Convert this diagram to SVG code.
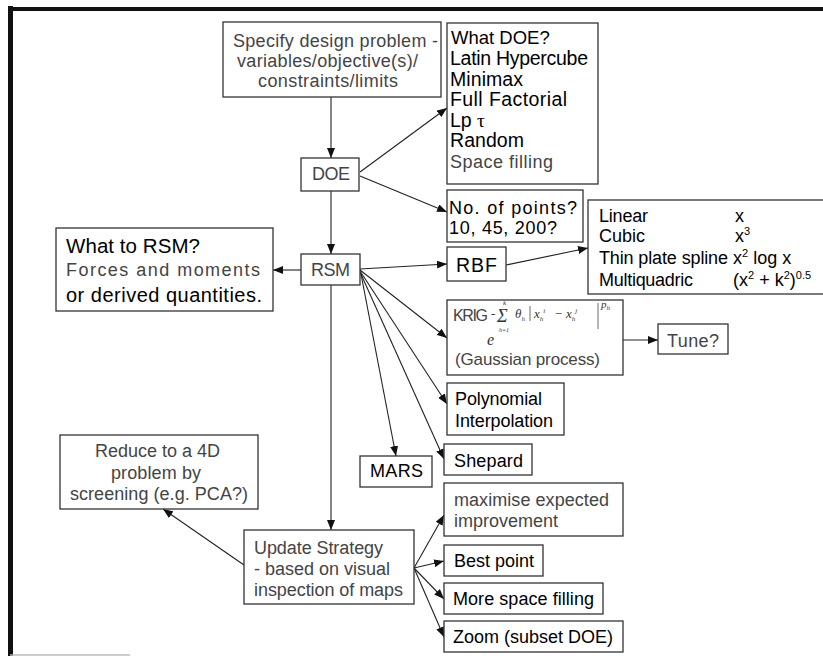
<svg xmlns="http://www.w3.org/2000/svg" width="823" height="656" viewBox="0 0 823 656">
<defs>
<marker id="ah" markerUnits="userSpaceOnUse" markerWidth="10" markerHeight="8" refX="10" refY="4" orient="auto">
<path d="M0,0 L10,4 L0,8 z" fill="#111"/>
</marker>
<style>
.box{fill:#fff;stroke:#333;stroke-width:1.3}
.t{font-family:"Liberation Sans",Arial,sans-serif;font-size:18px;fill:#111}
.g{fill:#444}
.b{fill:#000}
.w{font-size:19.5px}
.c line{stroke:#222;stroke-width:1.1;fill:none;marker-end:url(#ah)}
.m{font-family:"Liberation Serif","Times New Roman",serif;font-style:italic;fill:#333}
</style>
</defs>
<rect x="0" y="0" width="823" height="656" fill="#fff"/>
<g id="frame">
<line x1="10.5" y1="6" x2="10.5" y2="656" stroke="#111" stroke-width="5"/>
<line x1="8" y1="9" x2="823" y2="9" stroke="#111" stroke-width="4"/>
<line x1="10" y1="655" x2="130" y2="655" stroke="#bbb" stroke-width="1.5"/>
</g>

<g class="c" id="connectors">
<line x1="331" y1="97" x2="331" y2="158"/>
<line x1="360" y1="172" x2="447" y2="108"/>
<line x1="360" y1="176" x2="447" y2="212"/>
<line x1="331" y1="191" x2="331" y2="254"/>
<line x1="301" y1="270" x2="273" y2="270"/>
<line x1="360" y1="269" x2="447" y2="264"/>
<line x1="506" y1="265" x2="588" y2="248"/>
<line x1="360" y1="270" x2="447" y2="338"/>
<line x1="623" y1="340" x2="658" y2="340"/>
<line x1="360" y1="271" x2="447" y2="404"/>
<line x1="360" y1="272" x2="444" y2="459"/>
<line x1="361" y1="274" x2="396" y2="456"/>
<line x1="331" y1="285" x2="331" y2="530"/>
<line x1="244" y1="565" x2="163" y2="509"/>
<line x1="414" y1="568" x2="444" y2="515"/>
<line x1="414" y1="568" x2="444" y2="561"/>
<line x1="414" y1="568" x2="444" y2="599"/>
<line x1="414" y1="568" x2="444" y2="637"/>
</g>

<g id="specify">
<rect class="box" x="223" y="22" width="218" height="75"/>
<text class="t g" x="233" y="47" textLength="205">Specify design problem -</text>
<text class="t g" x="237" y="67" textLength="181">variables/objective(s)/</text>
<text class="t g" x="258" y="87" textLength="140">constraints/limits</text>
</g>
<g id="doe">
<rect class="box" x="301" y="158" width="58" height="33"/>
<text class="t g" x="312" y="180" textLength="38">DOE</text>
</g>
<g id="whatdoe">
<rect class="box" x="447" y="23" width="151" height="161"/>
<text class="t b" x="451" y="44" style="font-size:18.5px">What DOE?</text>
<text class="t b w" x="450" y="65" textLength="138">Latin Hypercube</text>
<text class="t b w" x="450" y="86" textLength="73">Minimax</text>
<text class="t b w" x="450" y="106" textLength="117">Full Factorial</text>
<text class="t b w" x="450" y="127">Lp <tspan font-family="Liberation Serif,serif">τ</tspan></text>
<text class="t b w" x="450" y="147" textLength="74">Random</text>
<text class="t g" x="450" y="168" textLength="103">Space filling</text>
</g>
<g id="npoints">
<rect class="box" x="447" y="190" width="136" height="52"/>
<text class="t b" x="449" y="214" textLength="128">No. of points?</text>
<text class="t b" x="449" y="234" textLength="108">10, 45, 200?</text>
</g>
<g id="rbfkernels">
<rect class="box" x="588" y="200" width="245" height="94"/>
<text class="t b" x="599" y="222" textLength="49">Linear</text>
<text class="t b" x="735" y="222">x</text>
<text class="t b" x="599" y="242" textLength="46">Cubic</text>
<text class="t b" x="735" y="242">x<tspan font-size="11" dy="-7">3</tspan></text>
<text class="t b" x="599" y="264" textLength="129">Thin plate spline</text>
<text class="t b" x="733" y="264">x<tspan font-size="11" dy="-7">2</tspan><tspan dy="7"> log x</tspan></text>
<text class="t b" x="599" y="286" textLength="94">Multiquadric</text>
<text class="t b" x="733" y="286">(x<tspan font-size="11" dy="-7">2</tspan><tspan dy="7"> + k</tspan><tspan font-size="11" dy="-7">2</tspan><tspan dy="7">)</tspan><tspan font-size="11" dy="-7">0.5</tspan></text>
</g>
<g id="rbf">
<rect class="box" x="447" y="247" width="59" height="34"/>
<text class="t b w" x="456" y="272" textLength="41">RBF</text>
</g>
<g id="rsm">
<rect class="box" x="301" y="254" width="59" height="31"/>
<text class="t g" x="311" y="276" textLength="39">RSM</text>
</g>
<g id="whattorsm">
<rect class="box" x="56" y="228" width="217" height="83"/>
<text class="t b" x="66" y="253" textLength="134" style="font-size:20.5px">What to RSM?</text>
<text class="t g" x="66" y="276" textLength="194">Forces and moments</text>
<text class="t b" x="66" y="302" textLength="196" style="font-size:20px">or derived quantities.</text>
</g>
<g id="krig">
<rect class="box" x="447" y="300" width="176" height="75"/>
<text class="t g" x="453" y="321" textLength="35" style="font-size:16px">KRIG</text>
<text class="m" x="491" y="318" font-size="13">-</text>
<text class="m" x="497" y="322" font-size="18" font-style="normal">Σ</text>
<text class="m" x="503" y="305" font-size="7">k</text>
<text class="m" x="499" y="332" font-size="6">h=1</text>
<text class="m" x="515" y="318" font-size="13">θ<tspan font-size="7" dy="3">h</tspan></text>
<line x1="530" y1="306" x2="530" y2="321" stroke="#444" stroke-width="0.8"/>
<text class="m" x="534" y="318" font-size="13">x<tspan font-size="7" dy="3">h</tspan><tspan font-size="7" dy="-8">i</tspan></text>
<text class="m" x="554" y="318" font-size="13">−</text>
<text class="m" x="566" y="318" font-size="13">x<tspan font-size="7" dy="3">h</tspan><tspan font-size="7" dy="-8">j</tspan></text>
<line x1="598" y1="303" x2="598" y2="329" stroke="#444" stroke-width="0.8"/>
<text class="m" x="601" y="308" font-size="11">p<tspan font-size="7" dy="2">h</tspan></text>
<text class="m" x="487" y="345" font-size="16">e</text>
<text class="t g" x="455" y="365" textLength="145" style="font-size:17px">(Gaussian process)</text>
</g>
<g id="tune">
<rect class="box" x="658" y="324" width="70" height="30"/>
<text class="t g" x="667" y="347" textLength="52">Tune?</text>
</g>
<g id="poly">
<rect class="box" x="447" y="383" width="117" height="52"/>
<text class="t b" x="455" y="405" textLength="87">Polynomial</text>
<text class="t b" x="455" y="427" textLength="98">Interpolation</text>
</g>
<g id="shepard">
<rect class="box" x="444" y="444" width="88" height="31"/>
<text class="t b" x="454" y="467" textLength="69">Shepard</text>
</g>
<g id="mars">
<rect class="box" x="360" y="456" width="72" height="31"/>
<text class="t b" x="370" y="477" textLength="53">MARS</text>
</g>
<g id="maximise">
<rect class="box" x="444" y="483" width="179" height="53"/>
<text class="t g" x="454" y="506" textLength="155">maximise expected</text>
<text class="t g" x="454" y="527" textLength="104">improvement</text>
</g>
<g id="bestpoint">
<rect class="box" x="444" y="545" width="99" height="31"/>
<text class="t b" x="454" y="567" textLength="80">Best point</text>
</g>
<g id="morespace">
<rect class="box" x="444" y="583" width="159" height="31"/>
<text class="t b" x="453" y="605" textLength="141">More space filling</text>
</g>
<g id="zoom">
<rect class="box" x="444" y="621" width="179" height="31"/>
<text class="t b" x="453" y="643" textLength="160">Zoom (subset DOE)</text>
</g>
<g id="update">
<rect class="box" x="244" y="530" width="170" height="74"/>
<text class="t g" x="254" y="554" textLength="129">Update Strategy</text>
<text class="t g" x="254" y="575" textLength="136">- based on visual</text>
<text class="t g" x="254" y="596" textLength="149">inspection of maps</text>
</g>
<g id="reduce">
<rect class="box" x="60" y="435" width="198" height="74"/>
<text class="t g" x="95" y="457" textLength="125">Reduce to a 4D</text>
<text class="t g" x="111" y="479" textLength="90">problem by</text>
<text class="t g" x="70" y="500" textLength="178">screening (e.g. PCA?)</text>
</g>
</svg>
